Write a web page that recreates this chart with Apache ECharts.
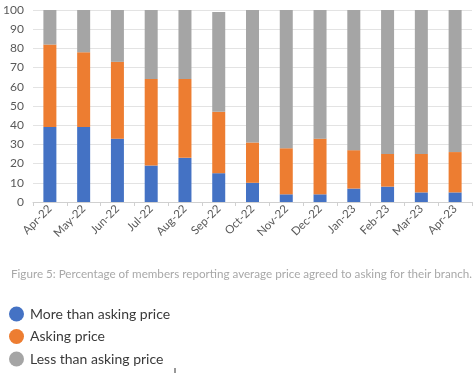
<!DOCTYPE html>
<html><head><meta charset="utf-8">
<script src="https://cdn.jsdelivr.net/npm/echarts@6/dist/echarts.min.js"></script>
<style>html,body{margin:0;padding:0;background:#fff}#c{width:474px;height:373px}</style>
</head><body><div id="c"></div>
<script>
const categories = ['Apr-22','May-22','Jun-22','Jul-22','Aug-22','Sep-22','Oct-22','Nov-22','Dec-22','Jan-23','Feb-23','Mar-23','Apr-23'];
const moreThanAsking = [39,39,33,19,23,15,10,4,4,7,8,5,5];
const askingPrice = [43,39,40,45,41,32,21,24,29,20,17,20,21];
const lessThanAsking = [18,22,27,36,36,52,69,72,67,73,75,75,74];
const yTicks = [0,10,20,30,40,50,60,70,80,90,100];
const seriesNames = ['More than asking price','Asking price','Less than asking price'];
const captionText = 'Figure 5: Percentage of members reporting average price agreed to asking for their branch.';

const chart = echarts.init(document.getElementById('c'), null, {renderer:'canvas'});
const mk = (name, data, color) => ({
  name, type:'bar', stack:'a', data, barWidth:13,
  itemStyle:{color}, emphasis:{disabled:true}
});
chart.setOption({
  animation:false,
  textStyle:{fontFamily:'Lato'},
  title:{text:captionText, left:6, top:263,
    textStyle:{fontSize:11.65, fontWeight:'normal', color:'#a8a8a8', fontFamily:'Lato'}},
  legend:{orient:'vertical', left:4, top:301.5, height:80, icon:'circle', itemWidth:15, itemHeight:15, itemGap:7.5,
    data:seriesNames, selectedMode:false,
    textStyle:{fontSize:14, color:'#3a3a3a', fontFamily:'Lato', padding:[0,0,0,1]}},
  grid:{left:33, right:2, top:10, bottom:171},
  xAxis:{type:'category', data:categories,
    axisLine:{lineStyle:{color:'#d0d0d0'}},
    axisTick:{show:true, length:4, lineStyle:{color:'#d0d0d0'}},
    axisLabel:{rotate:45, fontSize:11.5, color:'#595959', margin:5, interval:0}},
  yAxis:{type:'value', min:0, max:100, interval:10,
    axisLine:{show:false}, axisTick:{show:false},
    axisLabel:{fontSize:12, color:'#595959', margin:9,
      formatter:v => yTicks.includes(v) ? String(v) : ''},
    splitLine:{lineStyle:{color:'#e3e3e3'}}},
  graphic:[{type:'line', shape:{x1:175, y1:368, x2:175, y2:373}, style:{stroke:'#333', lineWidth:1}}],
  series:[
    mk(seriesNames[0], moreThanAsking, '#4472C4'),
    mk(seriesNames[1], askingPrice, '#ED7D31'),
    mk(seriesNames[2], lessThanAsking, '#A5A5A5')
  ]
});
</script></body></html>
